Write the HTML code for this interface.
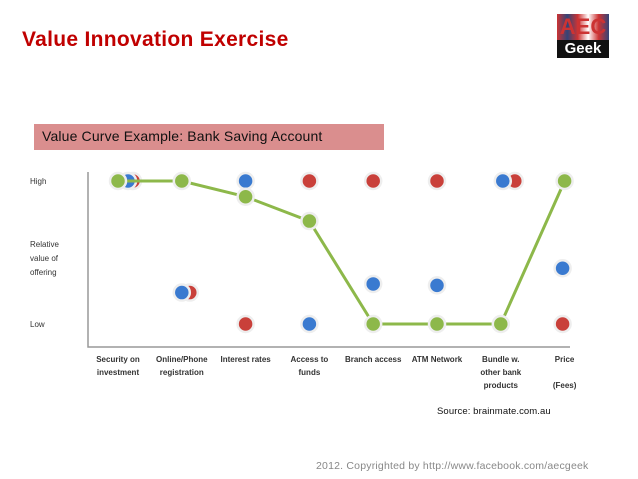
<!DOCTYPE html>
<html><head><meta charset="utf-8"><style>
body{margin:0;background:#fff;width:638px;height:479px;overflow:hidden;position:relative;font-family:"Liberation Sans",sans-serif}
.t{position:absolute;white-space:nowrap}
</style></head><body>
<div class="t" style="left:22px;top:28px;font-size:21px;font-weight:bold;color:#c00000;letter-spacing:0.3px">Value Innovation Exercise</div>
<div style="position:absolute;left:557px;top:14px;width:52px;height:46px">
<div style="height:26px;background:linear-gradient(90deg,#c33,#347,#c33,#fff,#c33,#347);font:bold 22px 'Liberation Sans';color:#c33;text-align:center;line-height:26px">AEC</div>
<div class="t" style="position:relative;background:#111;color:#fff;font-weight:bold;font-size:15px;text-align:center;height:18px;line-height:18px">Geek</div></div>
<div style="position:absolute;left:34px;top:124px;width:350px;height:26px;background:#da8e8e"></div>
<div class="t" style="left:42px;top:128px;font-size:14px;color:#111;letter-spacing:0.15px">Value Curve Example: Bank Saving Account</div>
<svg id="c" width="638" height="479" style="position:absolute;left:0;top:0"></svg>
<div class="t" style="left:437px;top:406px;font-size:9.5px;color:#111;letter-spacing:0.1px">Source: brainmate.com.au</div>
<div class="t" style="left:316px;top:460px;font-size:10.5px;color:#888;letter-spacing:0.2px">2012. Copyrighted by http://www.facebook.com/aecgeek</div>
<script>
const categories=["Security on|investment","Online/Phone|registration","Interest rates","Access to|funds","Branch access","ATM Network","Bundle w.|other bank|products","Price||(Fees)"];
const greenValues=[10,10,8.9,7.2,0,0,0,10];
const blueValues=[10,2.2,10,0,2.8,2.7,10,3.9];
const redValues=[10,2.2,0,10,10,10,10,0];
const yLabels=["High","Relative|value of|offering","Low"];
const NS="http://www.w3.org/2000/svg",svg=document.getElementById('c');
const xs=i=>118+i*63.8, ys=v=>324-v*14.3;
function el(t,a,p){const e=document.createElementNS(NS,t);for(const k in a)e.setAttribute(k,a[k]);(p||svg).appendChild(e);return e;}
const ax=el('path',{d:'M88 172V347H570',stroke:'#999','stroke-width':1.5,fill:'none'});


const yPos=[ys(10),258,ys(0)];
yLabels.forEach((l,j)=>{l.split('|').forEach((s,k,a)=>{const t=el('text',{x:30,y:yPos[j]+3+(k-(a.length-1)/2)*14,'font-size':8,fill:'#333'});t.textContent=s;

});});
categories.forEach((c,i)=>{c.split('|').forEach((s,k)=>{if(!s)return;const t=el('text',{x:xs(i),y:362+k*13,'font-size':8,'font-weight':'bold','text-anchor':'middle',fill:'#333'});t.textContent=s;

});});
function dots(vals,color,off,name){vals.forEach((v,i)=>{const g=el('circle',{cx:xs(i)+off[i],cy:ys(v),r:8,fill:color,stroke:'#eee','stroke-width':2.5});

});}
const redOff=[15,8,0,0,0,0,14,-2],blueOff=[10,0,0,0,0,0,2,-2],greenOff=[0,0,0,0,0,0,0,0];
dots(redValues,'#c9403a',redOff,'red-point');
dots(blueValues,'#3a7ad0',blueOff,'blue-point');
const ln=el('polyline',{points:greenValues.map((v,i)=>xs(i)+','+ys(v)).join(' '),fill:'none',stroke:'#8db84a','stroke-width':3});


dots(greenValues,'#8db84a',greenOff,'green-point');
</script>
</body></html>
